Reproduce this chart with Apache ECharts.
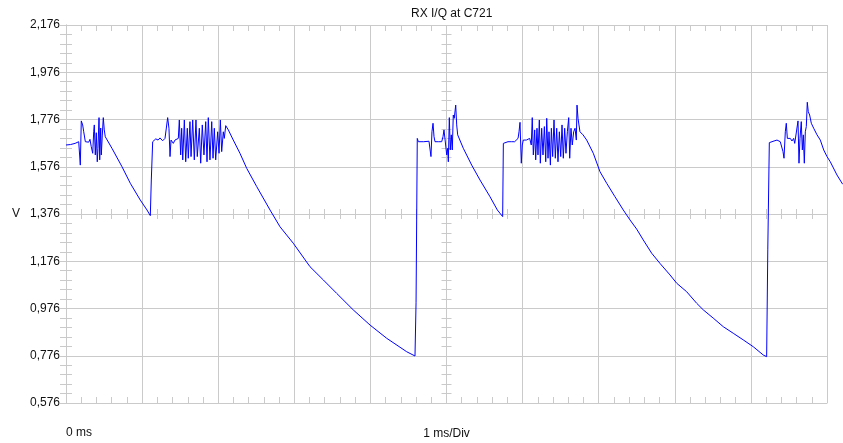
<!DOCTYPE html>
<html>
<head>
<meta charset="utf-8">
<script src="https://cdn.jsdelivr.net/npm/echarts@6/dist/echarts.min.js"></script>
<style>
  html, body { margin: 0; padding: 0; background: #fff; }
  #chart { width: 843px; height: 443px; }
</style>
</head>
<body>
<div id="chart"></div>
<script>
// scope trace, [ms, V] pairs
const startBurst = [
  [0.000, 1.668], [0.060, 1.670], [0.120, 1.675], [0.167, 1.682], [0.175, 1.680], [0.188, 1.583],
  [0.201, 1.770], [0.219, 1.753], [0.233, 1.724], [0.254, 1.682], [0.276, 1.689], [0.298, 1.680],
  [0.315, 1.692], [0.332, 1.661], [0.351, 1.633], [0.364, 1.724], [0.372, 1.753], [0.385, 1.626],
  [0.398, 1.720], [0.411, 1.597], [0.420, 1.654], [0.434, 1.784], [0.443, 1.605], [0.456, 1.740],
  [0.464, 1.626], [0.477, 1.710], [0.490, 1.784], [0.503, 1.732], [0.516, 1.703]
];
const shortRamp1 = [
  [0.604, 1.654], [0.736, 1.576], [0.845, 1.506], [0.976, 1.435], [1.064, 1.393], [1.108, 1.369],
  [1.121, 1.520], [1.139, 1.682]
];
const longBurst1 = [
  [1.152, 1.689], [1.180, 1.694], [1.210, 1.689], [1.235, 1.698], [1.270, 1.686], [1.301, 1.696],
  [1.327, 1.700], [1.336, 1.784], [1.353, 1.739], [1.367, 1.619], [1.380, 1.689], [1.410, 1.675],
  [1.432, 1.689], [1.455, 1.682], [1.476, 1.696], [1.489, 1.774], [1.507, 1.626], [1.520, 1.739],
  [1.534, 1.605], [1.555, 1.774], [1.573, 1.597], [1.594, 1.739], [1.607, 1.612], [1.629, 1.767],
  [1.643, 1.619], [1.665, 1.774], [1.686, 1.605], [1.708, 1.774], [1.725, 1.619], [1.752, 1.739],
  [1.770, 1.591], [1.791, 1.753], [1.813, 1.626], [1.836, 1.767], [1.853, 1.597], [1.870, 1.784],
  [1.892, 1.605], [1.915, 1.767], [1.932, 1.612], [1.949, 1.739], [1.967, 1.605], [1.993, 1.724],
  [2.011, 1.633], [2.028, 1.774], [2.046, 1.640], [2.067, 1.724], [2.080, 1.696], [2.099, 1.750]
];
const longRamp1 = [
  [2.133, 1.732], [2.198, 1.689], [2.286, 1.633], [2.375, 1.569], [2.506, 1.492], [2.681, 1.393],
  [2.812, 1.322], [2.987, 1.252], [3.206, 1.153], [3.381, 1.097], [3.557, 1.040], [3.775, 0.970],
  [3.995, 0.906], [4.214, 0.850], [4.477, 0.793], [4.586, 0.775], [4.600, 1.000], [4.616, 1.696]
];
const burst2 = [
  [4.630, 1.682], [4.700, 1.682], [4.770, 1.684], [4.783, 1.682], [4.796, 1.619], [4.809, 1.724],
  [4.823, 1.760], [4.836, 1.703], [4.849, 1.682], [4.871, 1.689], [4.892, 1.682], [4.915, 1.689],
  [4.937, 1.682], [4.954, 1.703], [4.967, 1.732], [4.984, 1.739], [5.003, 1.626], [5.016, 1.654],
  [5.024, 1.597], [5.037, 1.784], [5.050, 1.647], [5.063, 1.711], [5.076, 1.647], [5.089, 1.795],
  [5.102, 1.781], [5.121, 1.837], [5.134, 1.753], [5.147, 1.711]
];
const shortRamp2 = [
  [5.221, 1.654], [5.331, 1.583], [5.440, 1.520], [5.572, 1.449], [5.668, 1.393], [5.738, 1.365],
  [5.747, 1.675]
];
const longBurst2 = [
  [5.769, 1.682], [5.808, 1.682], [5.830, 1.689], [5.852, 1.682], [5.896, 1.682], [5.920, 1.685],
  [5.940, 1.696], [5.953, 1.724], [5.966, 1.764], [5.983, 1.591], [5.996, 1.668], [6.009, 1.689],
  [6.028, 1.696], [6.049, 1.689], [6.071, 1.682], [6.093, 1.696], [6.114, 1.668], [6.127, 1.784],
  [6.141, 1.626], [6.159, 1.732], [6.172, 1.605], [6.189, 1.739], [6.202, 1.626], [6.220, 1.774],
  [6.233, 1.591], [6.251, 1.739], [6.268, 1.626], [6.286, 1.746], [6.304, 1.597], [6.317, 1.781],
  [6.334, 1.612], [6.347, 1.724], [6.365, 1.583], [6.378, 1.739], [6.395, 1.619], [6.413, 1.774],
  [6.430, 1.612], [6.448, 1.739], [6.465, 1.597], [6.483, 1.724], [6.501, 1.619], [6.518, 1.753],
  [6.535, 1.612], [6.553, 1.739], [6.570, 1.633], [6.588, 1.724], [6.606, 1.784], [6.619, 1.612],
  [6.636, 1.739], [6.653, 1.668], [6.671, 1.724], [6.689, 1.739], [6.706, 1.689], [6.715, 1.837],
  [6.728, 1.781], [6.754, 1.724]
];
const longRamp2 = [
  [6.794, 1.711], [6.842, 1.689], [6.929, 1.633], [7.017, 1.555], [7.105, 1.506], [7.214, 1.449],
  [7.323, 1.393], [7.411, 1.351], [7.499, 1.312], [7.586, 1.266], [7.696, 1.210], [7.805, 1.167],
  [7.937, 1.118], [8.025, 1.083], [8.156, 1.047], [8.288, 0.998], [8.375, 0.970], [8.506, 0.935],
  [8.637, 0.899], [8.769, 0.871], [8.900, 0.843], [9.032, 0.814], [9.163, 0.779], [9.207, 0.772],
  [9.222, 1.224], [9.242, 1.678]
];
const burst3 = [
  [9.304, 1.685], [9.343, 1.689], [9.386, 1.682], [9.409, 1.675], [9.422, 1.640], [9.435, 1.612],
  [9.452, 1.724], [9.465, 1.760], [9.479, 1.696], [9.497, 1.689], [9.518, 1.696], [9.540, 1.685],
  [9.562, 1.696], [9.576, 1.675], [9.593, 1.668], [9.619, 1.770], [9.632, 1.591], [9.645, 1.696],
  [9.662, 1.767], [9.676, 1.647], [9.689, 1.711], [9.702, 1.591], [9.715, 1.724], [9.728, 1.746],
  [9.741, 1.849], [9.754, 1.809], [9.772, 1.795], [9.794, 1.760], [9.825, 1.739], [9.869, 1.711],
  [9.912, 1.689], [9.957, 1.647], [10.000, 1.619], [10.043, 1.597], [10.131, 1.541], [10.206, 1.502]
];

const trace = [].concat(startBurst, shortRamp1, longBurst1, longRamp1, burst2, shortRamp2,
  longBurst2, longRamp2, burst3);

const X_MIN = 0, X_MAX = 10, X_DIV = 1;
const Y_MIN = 0.576, Y_MAX = 2.176, Y_DIV = 0.2;
const TITLE = 'RX I/Q at C721';

const GRID_COLOR = '#cacaca';
const FONT = 'Liberation Sans';

// plot frame in px; the trace runs on past the right border up to the window edge
const PLOT_LEFT = 66, PLOT_RIGHT = 827, PLOT_TOP = 25, PLOT_BOTTOM = 403;
const WIN_W = 843, WIN_H = 443;
const TRACE_X_MAX = X_MAX * (WIN_W - PLOT_LEFT) / (PLOT_RIGHT - PLOT_LEFT);

var chartDom = document.getElementById('chart');
var chart = echarts.init(chartDom, null, { renderer: 'canvas' });

function xAx(extra) {
  return Object.assign({
    type: 'value', min: X_MIN, max: X_MAX, interval: X_DIV, gridIndex: 0,
    axisLine: { show: true, lineStyle: { color: GRID_COLOR, width: 1 } },
    axisTick: { show: true, inside: true, length: 6, lineStyle: { color: GRID_COLOR } },
    minorTick: { show: true, splitNumber: 5, length: 6, lineStyle: { color: GRID_COLOR } },
    axisLabel: { show: false },
    splitLine: { show: false }
  }, extra);
}
function yAx(extra) {
  return Object.assign({
    type: 'value', min: Y_MIN, max: Y_MAX, interval: Y_DIV, gridIndex: 0,
    axisLine: { show: true, lineStyle: { color: GRID_COLOR, width: 1 } },
    axisTick: { show: true, inside: true, length: 6, lineStyle: { color: GRID_COLOR } },
    minorTick: { show: true, splitNumber: 5, length: 6, lineStyle: { color: GRID_COLOR } },
    axisLabel: { show: false },
    splitLine: { show: false }
  }, extra);
}

var option = {
  animation: false,
  backgroundColor: '#fff',
  title: {
    text: TITLE, left: 406, top: 3,
    textStyle: { fontFamily: FONT, fontSize: 12, fontWeight: 'normal', color: '#111' }
  },
  grid: [
    { left: PLOT_LEFT, right: WIN_W - PLOT_RIGHT, top: PLOT_TOP, bottom: WIN_H - PLOT_BOTTOM,
      containLabel: false, outerBoundsMode: 'none' },
    // same scale, wider box, only for the trace
    { left: PLOT_LEFT, right: 0, top: PLOT_TOP, bottom: WIN_H - PLOT_BOTTOM,
      containLabel: false, outerBoundsMode: 'none' }
  ],
  xAxis: [
    xAx({
      position: 'bottom',
      splitLine: { show: true, lineStyle: { color: GRID_COLOR, width: 1 } },
      axisLabel: {
        show: true, margin: 24, align: 'left',
        fontFamily: FONT, fontSize: 12, color: '#111',
        formatter: function (v) { return v === 0 ? '0 ms' : ''; }
      },
      name: '1 ms/Div', nameLocation: 'middle', nameGap: 25, nameMoveOverlap: false,
      nameTextStyle: { fontFamily: FONT, fontSize: 12, color: '#111', verticalAlign: 'top' }
    }),
    xAx({ position: 'top' }),
    // centre line ticks, both sides
    xAx({ position: 'bottom', offset: -189, axisLine: { show: false },
      axisTick: { show: true, inside: true, length: 5, lineStyle: { color: GRID_COLOR } },
      minorTick: { show: true, splitNumber: 5, length: 5, lineStyle: { color: GRID_COLOR } } }),
    xAx({ position: 'bottom', offset: -189, axisLine: { show: false },
      axisTick: { show: true, inside: false, length: 5, lineStyle: { color: GRID_COLOR } },
      minorTick: { show: true, splitNumber: 5, length: 5, lineStyle: { color: GRID_COLOR } } }),
    { type: 'value', gridIndex: 1, min: X_MIN, max: TRACE_X_MAX, show: false }
  ],
  yAxis: [
    yAx({
      position: 'left',
      splitLine: { show: true, lineStyle: { color: GRID_COLOR, width: 1 } },
      axisLabel: {
        show: true, margin: 6, fontFamily: FONT, fontSize: 12, color: '#111',
        formatter: function (v) { return v.toFixed(3).replace('.', ','); }
      },
      name: 'V', nameLocation: 'middle', nameGap: 46, nameRotate: 0, nameMoveOverlap: false,
      nameTextStyle: { fontFamily: FONT, fontSize: 12, color: '#111' }
    }),
    yAx({ position: 'right' }),
    yAx({ position: 'left', offset: -380.5, axisLine: { show: false },
      axisTick: { show: true, inside: true, length: 5, lineStyle: { color: GRID_COLOR } },
      minorTick: { show: true, splitNumber: 5, length: 5, lineStyle: { color: GRID_COLOR } } }),
    yAx({ position: 'left', offset: -380.5, axisLine: { show: false },
      axisTick: { show: true, inside: false, length: 5, lineStyle: { color: GRID_COLOR } },
      minorTick: { show: true, splitNumber: 5, length: 5, lineStyle: { color: GRID_COLOR } } }),
    { type: 'value', gridIndex: 1, min: Y_MIN, max: Y_MAX, show: false }
  ],
  series: [
    {
      type: 'line',
      xAxisIndex: 4,
      yAxisIndex: 4,
      data: trace,
      showSymbol: false,
      symbol: 'none',
      clip: false,
      lineStyle: { color: '#0000ff', width: 1 }
    }
  ]
};
chart.setOption(option);
</script>
</body>
</html>
